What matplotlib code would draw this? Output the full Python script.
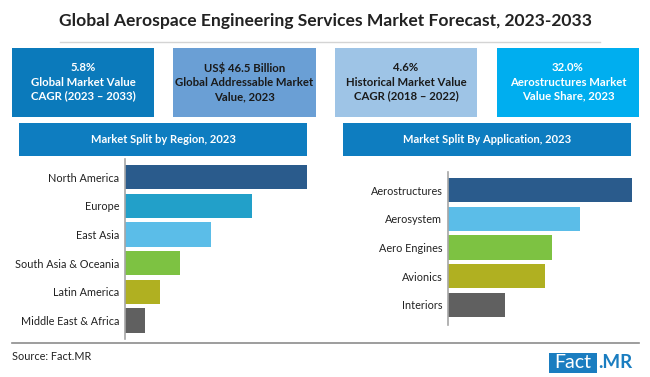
import matplotlib
matplotlib.use("Agg")
import matplotlib.pyplot as plt
from matplotlib.patches import Rectangle

plt.rcParams['font.family'] = ['Lato', 'DejaVu Sans']

W, H = 650, 377

title = "Global Aerospace Engineering Services Market Forecast, 2023-2033"
kpi_texts = ["5.8%\nGlobal Market Value\nCAGR (2023 \u2013 2033)",
             "US$ 46.5 Billion\nGlobal Addressable Market\nValue, 2023",
             "4.6%\nHistorical Market Value\nCAGR (2018 \u2013 2022)",
             "32.0%\nAerostructures Market\nValue Share, 2023"]
kpi_colors = ["#0b7abb", "#6a9fd5", "#9ec4e6", "#00aeef"]
kpi_text_colors = ["white", "#1a1a1a", "#1a1a1a", "white"]

region_title = "Market Split by Region, 2023"
regions = ["North America", "Europe", "East Asia", "South Asia & Oceania",
           "Latin America", "Middle East & Africa"]
region_values = [36.2, 25.3, 17.1, 11.0, 7.0, 4.0]
region_colors = ["#2a5b8c", "#22a0c9", "#5bbde8", "#7dc242", "#b0b021", "#606060"]

app_title = "Market Split By Application, 2023"
applications = ["Aerostructures", "Aerosystem", "Aero Engines", "Avionics", "Interiors"]
app_values = [32.0, 23.0, 18.1, 16.9, 9.9]
app_colors = ["#2a5b8c", "#5bbde8", "#7dc242", "#b0b021", "#606060"]

source = "Source: Fact.MR"

fig = plt.figure(figsize=(W / 100, H / 100), dpi=100)
fig.patch.set_facecolor("white")


def px_rect(x0, y0, x1, y1):
    return [x0 / W, 1 - y1 / H, (x1 - x0) / W, (y1 - y0) / H]


def fx(x):
    return x / W


def fy(y):
    return 1 - y / H


# Title
fig.text(fx(326), fy(21), title, ha="center", va="center", fontsize=12.6,
         fontweight="bold", color="#222222")
fig.add_artist(plt.Line2D([fx(60), fx(600)], [fy(42), fy(42)], color="#d4d4d4", lw=1))

# KPI boxes
kpi_x = [(12, 154), (173, 316), (335, 477), (497, 639)]
for (x0, x1), txt, c, tc in zip(kpi_x, kpi_texts, kpi_colors, kpi_text_colors):
    fig.add_artist(Rectangle((fx(x0), fy(117)), fx(x1 - x0), (117 - 48) / H,
                             transform=fig.transFigure, color=c, lw=0))
    fig.text(fx((x0 + x1) / 2), fy(82), txt, ha="center", va="center",
             fontsize=8.2, fontweight="bold", color=tc, linespacing=1.35)

# Headers
for (x0, x1), txt in [((19, 307), region_title), ((343, 631), app_title)]:
    fig.add_artist(Rectangle((fx(x0), fy(156)), fx(x1 - x0), (156 - 123) / H,
                             transform=fig.transFigure, color="#0e7dc0", lw=0))
    fig.text(fx((x0 + x1) / 2), fy(139.5), txt, ha="center", va="center",
             fontsize=8, fontweight="bold", color="white")


def bar_panel(rect, cats, vals, cols, pad_top, pad_bot):
    ax = fig.add_axes(rect)
    n = len(cats)
    ax.barh(range(n), vals, height=0.85, color=cols)
    ax.set_xlim(0, max(vals))
    ax.set_ylim(n - 1 + pad_bot, -pad_top)
    ax.set_yticks(range(n))
    ax.set_yticklabels(cats, fontsize=7.8, color="#222222")
    ax.tick_params(axis="y", length=0, pad=4)
    ax.set_xticks([])
    for s in ["top", "right", "bottom"]:
        ax.spines[s].set_visible(False)
    ax.spines["left"].set_color("#a6a6a6")
    ax.spines["left"].set_linewidth(1.2)
    ax.patch.set_alpha(0)
    return ax


bar_panel(px_rect(125, 159, 307, 339), regions, region_values, region_colors, 0.63, 0.64)
bar_panel(px_rect(448, 172, 632, 325), applications, app_values, app_colors, 0.63, 0.70)

# Bottom rule and source
fig.add_artist(plt.Line2D([fx(12), fx(639)], [fy(343), fy(343)], color="#8c8c8c", lw=1.2))
fig.text(fx(12), fy(357), source, ha="left", va="center", fontsize=7.8, color="#222222")

# Fact.MR logo
fig.add_artist(Rectangle((fx(549), fy(373)), fx(597 - 549), (373 - 353) / H,
                         transform=fig.transFigure, color="#1a7dc0", lw=0))
fig.text(fx(573), fy(363), "Fact", ha="center", va="center", fontsize=14,
         color="white")
fig.text(fx(598), fy(363), ".MR", ha="left", va="center", fontsize=13.5,
         fontweight="bold", color="#1a7dc0")

fig.savefig("out.png", dpi=100, facecolor="white")
